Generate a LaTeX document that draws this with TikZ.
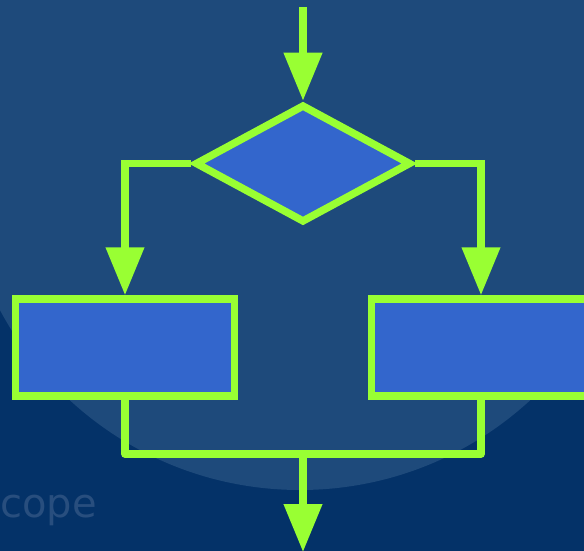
\documentclass[tikz,border=0pt]{standalone}
\usepackage{fontspec}
\newfontfamily\bgfont{DejaVu Sans}
\usetikzlibrary{arrows.meta,shapes.geometric}
\definecolor{bgdark}{RGB}{4,50,104}
\definecolor{bgseal}{RGB}{30,74,123}
\definecolor{lime}{RGB}{153,255,51}
\definecolor{boxblue}{RGB}{51,102,204}
\definecolor{faint}{RGB}{40,78,126}
\tikzset{
  flowline/.style={draw=lime, line width=7.5pt},
  arr/.style={flowline, -{Triangle[width=37pt,length=48pt]}},
  boxnode/.style={rectangle, draw=lime, fill=boxblue, line width=7.5pt,
    minimum width=219pt, minimum height=97pt, inner sep=0pt},
  decnode/.style={diamond, draw=lime, fill=boxblue, line width=7.5pt,
    minimum width=216pt, minimum height=118pt, inner sep=0pt},
}
\begin{document}
\begin{tikzpicture}[x=1pt,y=-1pt]
  \useasboundingbox (0,0) rectangle (584,551);
  \fill[bgdark] (0,0) rectangle (584,551);
  \begin{scope}
    \clip (0,0) rectangle (584,551);
    \fill[bgseal] (300,150) circle[radius=340];
  \end{scope}
  \node[anchor=base west, text=faint, inner sep=0pt, font=\bgfont\fontsize{40}{40}\selectfont] (bgtext) at (0,517) {cope};

  \node[decnode] (dec) at (303,163.5) {};
  \node[boxnode] (left) at (125,347.5) {};
  \node[boxnode] (right) at (481,347.5) {};
  \coordinate (top) at (303,7);
  \coordinate (join) at (303,454);
  \coordinate (bottom) at (303,552);

  \draw[arr] (top) -- (dec.north);
  \draw[arr] (dec.west) -| (left.north);
  \draw[arr] (dec.east) -| (right.north);
  \draw[flowline, line join=round] (left.south) |- (join) -| (right.south);
  \draw[arr] (join) -- (bottom);
\end{tikzpicture}
\end{document}
